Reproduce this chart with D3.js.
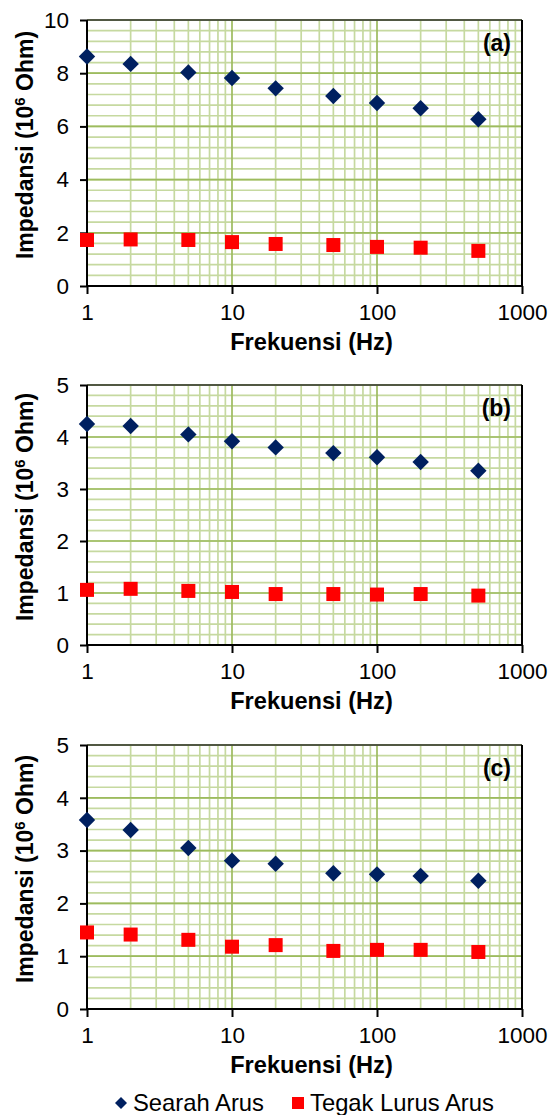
<!DOCTYPE html>
<html><head><meta charset="utf-8">
<script src="https://cdn.jsdelivr.net/npm/d3@7"></script>
<style>body{margin:0;background:#fff}svg{display:block}text{font-family:"Liberation Sans",Arial,sans-serif}</style>
</head><body>
<svg id="c" width="560" height="1115"></svg>
<script>
const freqs = [1, 2, 5, 10, 20, 50, 100, 200, 500];
const xTicks = [1, 10, 100, 1000];
const searahA = [8.63, 8.35, 8.03, 7.82, 7.43, 7.14, 6.88, 6.68, 6.27];
const tegakA  = [1.73, 1.75, 1.73, 1.65, 1.58, 1.54, 1.47, 1.44, 1.32];
const searahB = [4.25, 4.21, 4.05, 3.92, 3.80, 3.69, 3.61, 3.52, 3.35];
const tegakB  = [1.06, 1.08, 1.04, 1.02, 0.98, 0.98, 0.97, 0.98, 0.95];
const searahC = [3.58, 3.39, 3.05, 2.81, 2.75, 2.57, 2.55, 2.52, 2.43];
const tegakC  = [1.45, 1.41, 1.31, 1.18, 1.21, 1.10, 1.12, 1.12, 1.08];
const yTicksA = [0, 2, 4, 6, 8, 10];
const yTicksBC = [0, 1, 2, 3, 4, 5];
const panelLabels = ["(a)", "(b)", "(c)"];
const seriesNames = ["Searah Arus", "Tegak Lurus Arus"];

const panels = [
  {label: panelLabels[0], searah: searahA, tegak: tegakA, yTicks: yTicksA, yMax: 10, minorStep: 0.4, top: 20, bottom: 286},
  {label: panelLabels[1], searah: searahB, tegak: tegakB, yTicks: yTicksBC, yMax: 5, minorStep: 0.2, top: 385, bottom: 645},
  {label: panelLabels[2], searah: searahC, tegak: tegakC, yTicks: yTicksBC, yMax: 5, minorStep: 0.2, top: 745, bottom: 1009}
];
const left = 87, right = 522;
const svg = d3.select("#c");
const minorCol = "#c6d9a0", majorCol = "#9dbb5e";

const xMinor = [];
[1, 10, 100].forEach(d => { for (let k = 2; k <= 9; k++) xMinor.push(d * k); });

panels.forEach(p => {
  const x = d3.scaleLog().domain([1, 1000]).range([left, right]);
  const y = d3.scaleLinear().domain([0, p.yMax]).range([p.bottom, p.top]);
  const g = svg.append("g");
  const yMinor = d3.range(0, p.yMax + 1e-9, p.minorStep).map(v => +v.toFixed(3));

  g.selectAll(".hm").data(yMinor).enter().append("line")
    .attr("x1", left).attr("x2", right).attr("y1", d => y(d)).attr("y2", d => y(d))
    .attr("stroke", minorCol).attr("stroke-width", 1.7);
  g.selectAll(".vm").data(xMinor).enter().append("line")
    .attr("x1", d => x(d)).attr("x2", d => x(d)).attr("y1", p.top).attr("y2", p.bottom)
    .attr("stroke", minorCol).attr("stroke-width", 1.7);
  g.selectAll(".hM").data(p.yTicks).enter().append("line")
    .attr("x1", left).attr("x2", right).attr("y1", d => y(d)).attr("y2", d => y(d))
    .attr("stroke", majorCol).attr("stroke-width", 1.7);
  g.selectAll(".vM").data(xTicks).enter().append("line")
    .attr("x1", d => x(d)).attr("x2", d => x(d)).attr("y1", p.top).attr("y2", p.bottom)
    .attr("stroke", majorCol).attr("stroke-width", 1.7);

  g.append("line").attr("x1", left).attr("x2", right).attr("y1", p.top).attr("y2", p.top)
    .attr("stroke", "#333").attr("stroke-width", 1.5);
  g.append("line").attr("x1", right).attr("x2", right).attr("y1", p.top).attr("y2", p.bottom)
    .attr("stroke", "#000").attr("stroke-width", 2);

  const ya = g.append("g").attr("transform", `translate(${left},0)`)
    .call(d3.axisLeft(y).tickValues(p.yTicks).tickSize(7).tickPadding(11).tickFormat(d3.format("d")));
  const xa = g.append("g").attr("transform", `translate(0,${p.bottom})`)
    .call(d3.axisBottom(x).tickValues(xTicks).tickSize(8).tickPadding(10).tickFormat(d3.format("d")));
  [ya, xa].forEach(a => {
    a.select(".domain").attr("stroke", "#000").attr("stroke-width", 2);
    a.selectAll(".tick line").attr("stroke", "#000").attr("stroke-width", 2);
    a.selectAll(".tick text").attr("font-size", 22.5).attr("fill", "#000")
      .attr("font-family", '"Liberation Sans",Arial,sans-serif');
  });
  ya.select(".domain").attr("d", `M0,${p.top}V${p.bottom}`);
  xa.select(".domain").attr("d", `M${left},0H${right}`);

  const sym = d3.symbol();
  g.selectAll(".s").data(freqs).enter().append("path")
    .attr("transform", (d, i) => `translate(${x(d)},${y(p.searah[i])}) rotate(45)`)
    .attr("d", sym.type(d3.symbolSquare).size(135)())
    .attr("fill", "#002060");
  g.selectAll(".t").data(freqs).enter().append("rect")
    .attr("x", d => x(d) - 7).attr("y", (d, i) => y(p.tegak[i]) - 7)
    .attr("width", 14).attr("height", 14).attr("fill", "#ff0000");

  g.append("text").attr("x", 511).attr("y", p.top + 31).attr("text-anchor", "end")
    .attr("font-size", 23).attr("font-weight", "bold").text(p.label);

  g.append("text").attr("x", (left + right) / 2 + 7).attr("y", p.bottom + 64)
    .attr("text-anchor", "middle").attr("font-size", 23.6).attr("font-weight", "bold")
    .text("Frekuensi (Hz)");
  const yt = g.append("text").attr("transform", `translate(33,${(p.top + p.bottom) / 2 - 8}) rotate(-90)`)
    .attr("text-anchor", "middle").attr("font-size", 23).attr("font-weight", "bold");
  yt.append("tspan").text("Impedansi (10");
  yt.append("tspan").attr("font-size", 15).attr("dy", -8).text("6");
  yt.append("tspan").attr("dy", 8).text(" Ohm)");
});

const lg = svg.append("g");
lg.append("path").attr("transform", "translate(121,1103) rotate(45)")
  .attr("d", d3.symbol().type(d3.symbolSquare).size(72)()).attr("fill", "#002060");
lg.append("text").attr("x", 133).attr("y", 1111).attr("font-size", 23.8).text(seriesNames[0]);
lg.append("rect").attr("x", 292).attr("y", 1097).attr("width", 12).attr("height", 12).attr("fill", "#ff0000");
lg.append("text").attr("x", 310).attr("y", 1111).attr("font-size", 23.8).text(seriesNames[1]);
</script>
</body></html>
